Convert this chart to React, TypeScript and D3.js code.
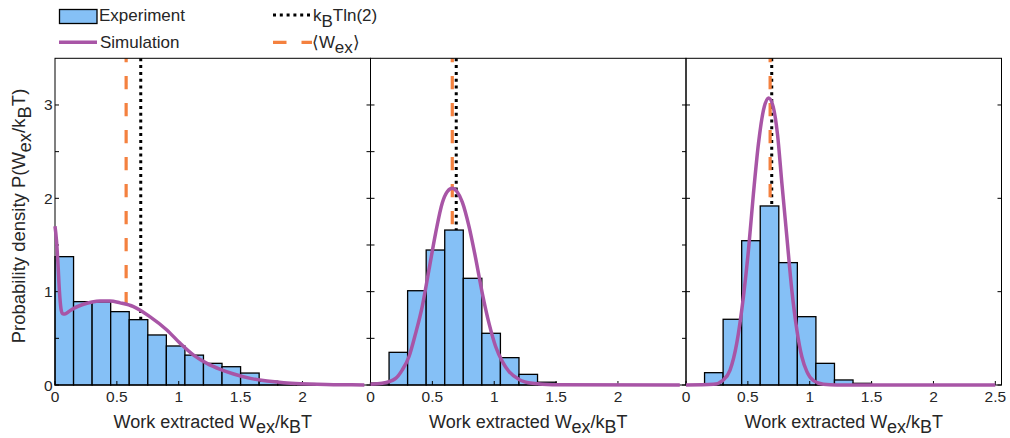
import React from "react";
import * as d3 from "d3";

// ---------------- data ----------------
const BIN_WIDTH = 0.15;
const expHist1 = [1.375, 0.893, 0.89, 0.786, 0.7, 0.536, 0.418, 0.32, 0.232, 0.196, 0.128, 0.04, 0.025, 0.015, 0.01];
const expHist2 = [0.02, 0.35, 1.01, 1.446, 1.66, 1.143, 0.554, 0.293, 0.114, 0.03];
const expHist3 = [0, 0.132, 0.704, 1.546, 1.918, 1.311, 0.732, 0.232, 0.054, 0.018];

const simX1 = [0, 0.012, 0.024, 0.036, 0.048, 0.06, 0.08, 0.11, 0.15, 0.23, 0.3, 0.364, 0.445, 0.526, 0.634, 0.769, 0.904, 1.012, 1.12, 1.228, 1.336, 1.444, 1.579, 1.714, 1.849, 1.984, 2.12, 2.25, 2.5];
const simY1 = [1.7, 1.55, 1.3, 1.0, 0.82, 0.765, 0.76, 0.785, 0.82, 0.865, 0.89, 0.9, 0.9, 0.88, 0.84, 0.73, 0.59, 0.446, 0.32, 0.232, 0.168, 0.118, 0.071, 0.043, 0.025, 0.014, 0.007, 0.003, 0.001];

const simX2 = [0, 0.094, 0.202, 0.256, 0.31, 0.364, 0.418, 0.472, 0.526, 0.58, 0.62, 0.661, 0.7, 0.742, 0.796, 0.85, 0.904, 0.958, 1.012, 1.066, 1.12, 1.2, 1.31, 1.47, 2.5];
const simY2 = [0.007, 0.018, 0.07, 0.16, 0.3, 0.55, 0.84, 1.23, 1.625, 1.95, 2.07, 2.107, 2.07, 1.96, 1.7, 1.357, 0.98, 0.66, 0.41, 0.25, 0.143, 0.06, 0.018, 0.004, 0];

const simX3 = [0, 0.222, 0.302, 0.356, 0.41, 0.464, 0.505, 0.545, 0.586, 0.626, 0.668, 0.705, 0.74, 0.775, 0.815, 0.855, 0.896, 0.937, 0.977, 1.03, 1.11, 1.22, 2.5];
const simY3 = [0, 0.007, 0.054, 0.16, 0.446, 0.946, 1.446, 2.05, 2.59, 2.946, 3.075, 2.98, 2.68, 2.16, 1.59, 1.02, 0.59, 0.3, 0.143, 0.046, 0.007, 0, 0];

const meanWork = [0.575, 0.661, 0.68];
const kTln2 = 0.693;

const xTicksShort = [0, 0.5, 1, 1.5, 2];
const xTicksLong = [0, 0.5, 1, 1.5, 2, 2.5];
const yTicksFine = [0, 0.5, 1, 1.5, 2, 2.5, 3];
const yTicksCoarse = [0, 1, 2, 3];
const yTickLabels = [0, 1, 2, 3];

// ---------------- layout ----------------
const W = 1010;
const H = 438;
const TOP = 58.3;
const BOTTOM = 385;
const PANEL_W = 315.5;
const PANEL_LEFT = [55, 370.5, 686];
const FONT = "'Liberation Sans', Arial, Helvetica, sans-serif";
const BAR_FILL = "#85C0F6";
const SIM = "#A855A6";
const ORANGE = "#F4813F";
const TEXT = "#262626";

const yScale = d3.scaleLinear().domain([0, 3.5]).range([BOTTOM, TOP]);

const panels = [
  { hist: expHist1, sx: simX1, sy: simY1, mean: meanWork[0], xt: xTicksShort, yt: yTicksFine, yLabels: true },
  { hist: expHist2, sx: simX2, sy: simY2, mean: meanWork[1], xt: xTicksShort, yt: yTicksFine, yLabels: false },
  { hist: expHist3, sx: simX3, sy: simY3, mean: meanWork[2], xt: xTicksLong, yt: yTicksCoarse, yLabels: false },
];

function Panel({ p, left }: { p: any; left: number }) {
  const x = d3.scaleLinear().domain([0, 2.55]).range([left, left + PANEL_W]);
  const line = d3
    .line<number>()
    .x((_, i) => x(p.sx[i]))
    .y((d) => yScale(d))
    .curve(d3.curveMonotoneX);
  const cx = left + PANEL_W / 2;
  return (
    <g>
      {/* vertical reference lines */}
      <line x1={x(kTln2)} x2={x(kTln2)} y1={TOP} y2={BOTTOM} stroke="#000" strokeWidth={3} strokeDasharray="3 3.8" />
      <line x1={x(p.mean)} x2={x(p.mean)} y1={TOP} y2={BOTTOM} stroke={ORANGE} strokeWidth={3.2} strokeDasharray="13.3 13.7" strokeDashoffset={9.3} />
      {/* histogram */}
      {p.hist.map((h: number, i: number) =>
        h > 0 ? (
          <rect
            key={i}
            x={x(i * BIN_WIDTH)}
            y={yScale(h)}
            width={x((i + 1) * BIN_WIDTH) - x(i * BIN_WIDTH)}
            height={yScale(0) - yScale(h)}
            fill={BAR_FILL}
            stroke="#000"
            strokeWidth={1.3}
          />
        ) : null
      )}
      {/* box */}
      <rect x={left} y={TOP} width={PANEL_W} height={BOTTOM - TOP} fill="none" stroke="#000" strokeWidth={1} />
      {/* ticks */}
      {p.xt.map((t: number) => (
        <line key={"xt" + t} x1={x(t)} x2={x(t)} y1={BOTTOM} y2={BOTTOM - 4} stroke="#000" strokeWidth={1} />
      ))}
      {p.yt.map((t: number) => (
        <g key={"yt" + t}>
          <line x1={left} x2={left + 4} y1={yScale(t)} y2={yScale(t)} stroke="#000" strokeWidth={1} />
          <line x1={left + PANEL_W} x2={left + PANEL_W - 4} y1={yScale(t)} y2={yScale(t)} stroke="#000" strokeWidth={1} />
        </g>
      ))}
      {/* tick labels */}
      {p.xt.map((t: number) => (
        <text key={"xl" + t} x={x(t)} y={402} textAnchor="middle" fontSize={15.5} fontFamily={FONT} fill={TEXT}>
          {String(t)}
        </text>
      ))}
      {p.yLabels &&
        yTickLabels.map((t) => (
          <text key={"yl" + t} x={left - 2.5} y={yScale(t) + 5.5} textAnchor="end" fontSize={15.5} fontFamily={FONT} fill={TEXT}>
            {String(t)}
          </text>
        ))}
      {/* simulation curve */}
      <path d={line(p.sy) || ""} fill="none" stroke={SIM} strokeWidth={3.5} strokeLinejoin="round" />
      {/* x label */}
      <text x={cx} y={427.5} textAnchor="middle" fontSize={18} fontFamily={FONT} fill={TEXT}>
        Work extracted W<tspan dy={5}>ex</tspan>
        <tspan dy={-5}>/k</tspan>
        <tspan dy={5}>B</tspan>
        <tspan dy={-5}>T</tspan>
      </text>
    </g>
  );
}

export default function App() {
  React.useEffect(() => {
    document.body.style.margin = "0";
  }, []);
  return (
    <div style={{ position: "absolute", left: 0, top: 0 }}>
      <svg width={W} height={H} style={{ display: "block", background: "#fff" }}>
        <rect x={0} y={0} width={W} height={H} fill="#fff" />
        {panels.map((p, i) => (
          <Panel key={i} p={p} left={PANEL_LEFT[i]} />
        ))}
        {/* y label */}
        <text transform={`translate(25,216) rotate(-90)`} textAnchor="middle" fontSize={18.5} fontFamily={FONT} fill={TEXT}>
          Probability density P(W<tspan dy={5.5}>ex</tspan>
          <tspan dy={-5.5}>/k</tspan>
          <tspan dy={5.5}>B</tspan>
          <tspan dy={-5.5}>T)</tspan>
        </text>
        {/* legend */}
        <rect x={59.5} y={9.5} width={37.5} height={14} fill={BAR_FILL} stroke="#000" strokeWidth={1.3} />
        <text x={99} y={21} fontSize={17} fontFamily={FONT} fill={TEXT}>Experiment</text>
        <line x1={59} x2={97} y1={42.3} y2={42.3} stroke={SIM} strokeWidth={3.5} />
        <text x={100} y={47.5} fontSize={17} fontFamily={FONT} fill={TEXT}>Simulation</text>
        <line x1={273} x2={312} y1={15} y2={15} stroke="#000" strokeWidth={3} strokeDasharray="3 3.8" />
        <text x={313} y={21} fontSize={17} fontFamily={FONT} fill={TEXT}>
          k<tspan dy={5.5}>B</tspan>
          <tspan dy={-5.5}>Tln(2)</tspan>
        </text>
        <line x1={273} x2={312} y1={42.3} y2={42.3} stroke={ORANGE} strokeWidth={3.2} strokeDasharray="13.5 15" />
        <text x={312} y={47.5} fontSize={17} fontFamily={FONT} fill={TEXT}>
          ⟨W<tspan dy={5.5}>ex</tspan>
          <tspan dy={-5.5}>⟩</tspan>
        </text>
      </svg>
    </div>
  );
}
